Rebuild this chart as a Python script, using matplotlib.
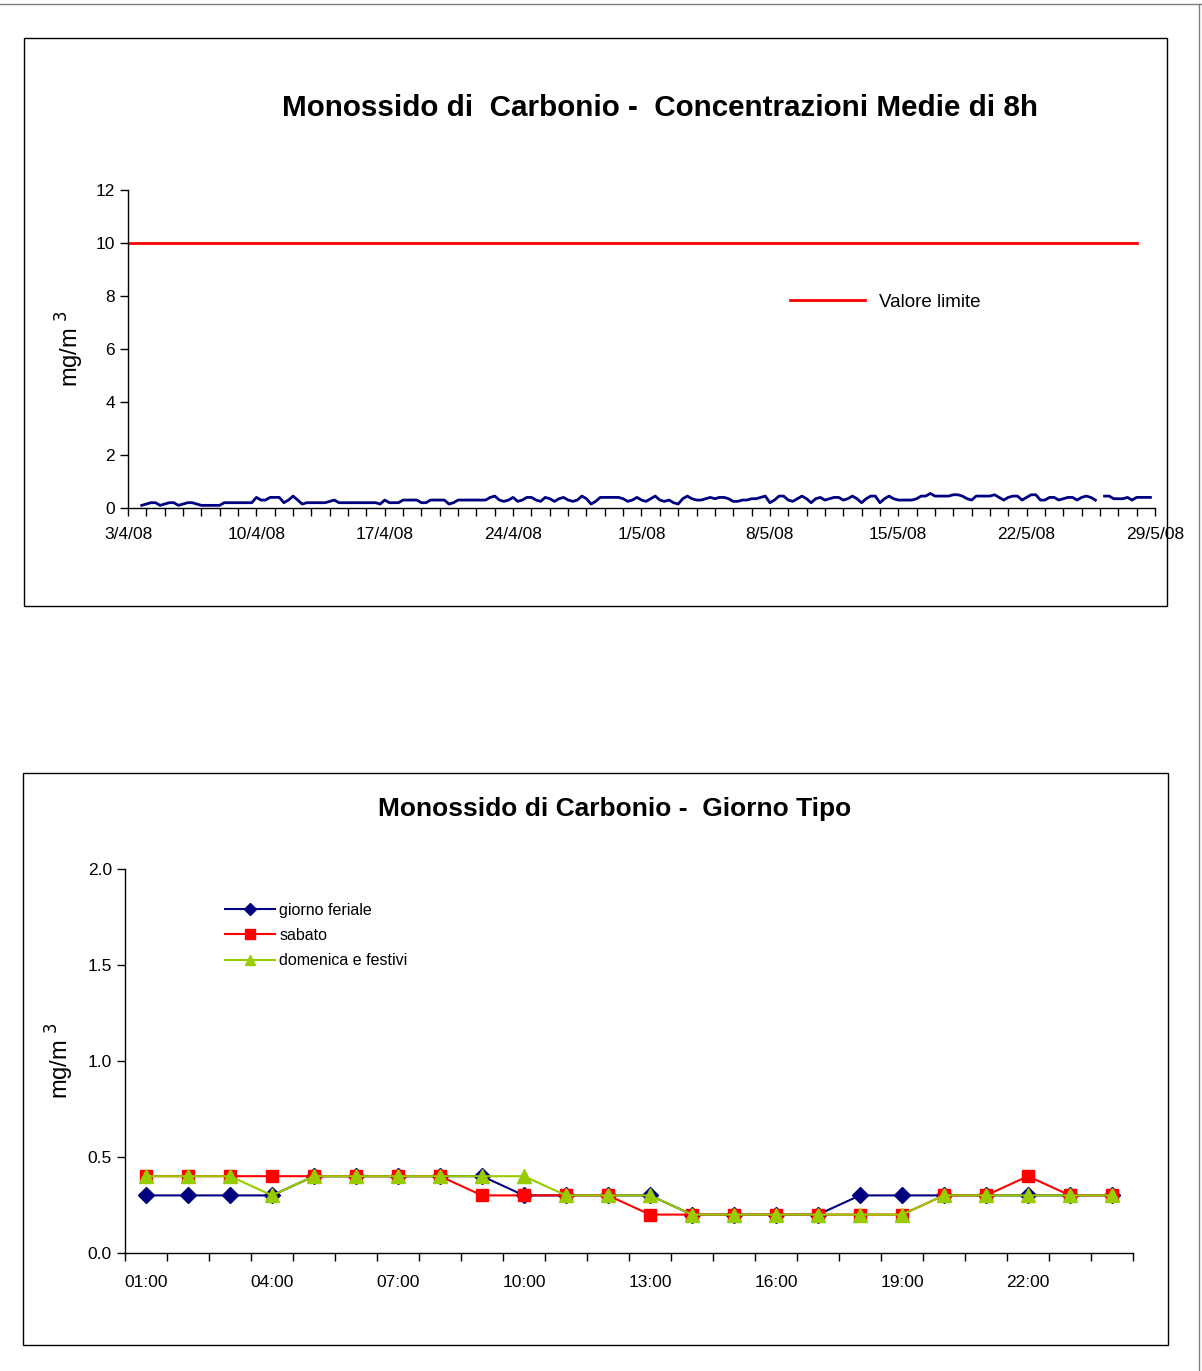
import numpy as np
import pandas as pd
import matplotlib
matplotlib.use('Agg')
import matplotlib.pyplot as plt
import matplotlib.dates as mdates
from matplotlib.lines import Line2D
from matplotlib.patches import Rectangle
from matplotlib.ticker import FuncFormatter, FixedLocator, MultipleLocator

plt.rcParams['font.family'] = ['Liberation Sans', 'DejaVu Sans']

# --- 8h rolling means, one row per day, samples at 00, 06, 12, 18h ---
start_date = '2008-04-03'
co_8h_daily = [
    [np.nan, np.nan, np.nan, 0.1],
    [0.15, 0.2, 0.2, 0.1],
    [0.15, 0.2, 0.2, 0.1],
    [0.15, 0.2, 0.2, 0.15],
    [0.1, 0.1, 0.1, 0.1],
    [0.1, 0.2, 0.2, 0.2],
    [0.2, 0.2, 0.2, 0.2],
    [0.4, 0.3, 0.3, 0.4],
    [0.4, 0.4, 0.2, 0.3],
    [0.45, 0.3, 0.15, 0.2],
    [0.2, 0.2, 0.2, 0.2],
    [0.25, 0.3, 0.2, 0.2],
    [0.2, 0.2, 0.2, 0.2],
    [0.2, 0.2, 0.2, 0.15],
    [0.3, 0.2, 0.2, 0.2],
    [0.3, 0.3, 0.3, 0.3],
    [0.2, 0.2, 0.3, 0.3],
    [0.3, 0.3, 0.15, 0.2],
    [0.3, 0.3, 0.3, 0.3],
    [0.3, 0.3, 0.3, 0.4],
    [0.45, 0.3, 0.25, 0.3],
    [0.4, 0.25, 0.3, 0.4],
    [0.4, 0.3, 0.25, 0.4],
    [0.35, 0.25, 0.35, 0.4],
    [0.3, 0.25, 0.3, 0.45],
    [0.35, 0.15, 0.25, 0.4],
    [0.4, 0.4, 0.4, 0.4],
    [0.35, 0.25, 0.3, 0.4],
    [0.3, 0.25, 0.35, 0.45],
    [0.3, 0.25, 0.3, 0.2],
    [0.15, 0.35, 0.45, 0.35],
    [0.3, 0.3, 0.35, 0.4],
    [0.35, 0.4, 0.4, 0.35],
    [0.25, 0.25, 0.3, 0.3],
    [0.35, 0.35, 0.4, 0.45],
    [0.2, 0.3, 0.45, 0.45],
    [0.3, 0.25, 0.35, 0.45],
    [0.35, 0.2, 0.35, 0.4],
    [0.3, 0.35, 0.4, 0.4],
    [0.3, 0.35, 0.45, 0.35],
    [0.2, 0.35, 0.45, 0.45],
    [0.2, 0.35, 0.45, 0.35],
    [0.3, 0.3, 0.3, 0.3],
    [0.35, 0.45, 0.45, 0.55],
    [0.45, 0.45, 0.45, 0.45],
    [0.5, 0.5, 0.45, 0.35],
    [0.3, 0.45, 0.45, 0.45],
    [0.45, 0.5, 0.4, 0.3],
    [0.4, 0.45, 0.45, 0.3],
    [0.4, 0.5, 0.5, 0.3],
    [0.3, 0.4, 0.4, 0.3],
    [0.35, 0.4, 0.4, 0.3],
    [0.4, 0.45, 0.4, 0.3],
    [np.nan, 0.45, 0.45, 0.35],
    [0.35, 0.35, 0.4, 0.3],
    [0.4, 0.4, 0.4, 0.4],
]
limit_value = 10
limit_end = '2008-05-28 01:00'
axis_end = '2008-05-29'

# --- typical day, hourly means ---
hours = ['%02d:00' % h for h in range(1, 25)]
feriale = [0.3, 0.3, 0.3, 0.3, 0.4, 0.4, 0.4, 0.4, 0.4, 0.3, 0.3, 0.3,
           0.3, 0.2, 0.2, 0.2, 0.2, 0.3, 0.3, 0.3, 0.3, 0.3, 0.3, 0.3]
sabato = [0.4, 0.4, 0.4, 0.4, 0.4, 0.4, 0.4, 0.4, 0.3, 0.3, 0.3, 0.3,
          0.2, 0.2, 0.2, 0.2, 0.2, 0.2, 0.2, 0.3, 0.3, 0.4, 0.3, 0.3]
domenica = [0.4, 0.4, 0.4, 0.3, 0.4, 0.4, 0.4, 0.4, 0.4, 0.4, 0.3, 0.3,
            0.3, 0.2, 0.2, 0.2, 0.2, 0.2, 0.2, 0.3, 0.3, 0.3, 0.3, 0.3]

W, H = 1202, 1371
fig = plt.figure(figsize=(W / 100, H / 100), dpi=100)


def fbox(x0, y0, x1, y1):
    """pixel box (top-left origin) -> figure fraction rect"""
    return [x0 / W, 1 - y1 / H, (x1 - x0) / W, (y1 - y0) / H]


# page and chart frames
fig.add_artist(Line2D([0, 1], [1 - 4 / H, 1 - 4 / H], color='#808080', lw=1))
fig.add_artist(Line2D([1 - 3 / W, 1 - 3 / W], [0, 1 - 4 / H], color='#808080', lw=1))
for x0, y0, x1, y1 in [(24, 38, 1167, 606), (23, 773, 1168, 1345)]:
    r = fbox(x0, y0, x1, y1)
    fig.add_artist(Rectangle((r[0], r[1]), r[2], r[3], transform=fig.transFigure,
                             fill=False, edgecolor='black', lw=1))


def excel_axes(ax):
    for s in ['top', 'right']:
        ax.spines[s].set_visible(False)
    for s in ['left', 'bottom']:
        ax.spines[s].set_linewidth(1)
    ax.tick_params(direction='out', length=6, width=1, labelsize=12.5, colors='black')


# ---------- 8h means ----------
ax1 = fig.add_axes(fbox(128, 190, 1155, 508))
excel_axes(ax1)
times = pd.date_range(start_date, periods=len(co_8h_daily) * 4, freq='6h')
values = np.array(co_8h_daily).ravel()
ax1.plot(times, values, color='#000080', lw=2)
t0 = pd.Timestamp(start_date)
ax1.plot([t0, pd.Timestamp(limit_end)], [limit_value, limit_value], color='#FF0000', lw=2)
ax1.set_xlim(t0, pd.Timestamp(axis_end))
ax1.set_ylim(0, 12)
ax1.yaxis.set_major_locator(MultipleLocator(2))
ax1.xaxis.set_major_locator(mdates.DayLocator())
ax1.tick_params(axis='x', pad=7.5)


def week_label(x, pos):
    d = mdates.num2date(x).replace(tzinfo=None)
    if (d - t0.to_pydatetime()).days % 7:
        return ''
    return '%d/%d/%s' % (d.day, d.month, d.strftime('%y'))


ax1.xaxis.set_major_formatter(FuncFormatter(week_label))
ax1.set_ylabel('mg/m $^{3}$', fontsize=17, labelpad=7)
fig.text(660 / W, 1 - 108 / H, 'Monossido di  Carbonio -  Concentrazioni Medie di 8h',
         ha='center', va='center', fontsize=21.3, fontweight='bold')
ax1.legend(handles=[Line2D([], [], color='#FF0000', lw=2)], labels=['Valore limite'],
           loc='upper left', bbox_to_anchor=(0.628, 0.727), frameon=False,
           fontsize=13.5, handlelength=4.0, handletextpad=0.75)

# ---------- typical day ----------
ax2 = fig.add_axes(fbox(125, 869, 1133, 1253))
excel_axes(ax2)
xc = np.arange(len(hours))
ax2.plot(xc, feriale, color='#000080', lw=1.5, marker='D', ms=8, label='giorno feriale')
ax2.plot(xc, sabato, color='#FF0000', lw=1.5, marker='s', ms=9, label='sabato')
ax2.plot(xc, domenica, color='#99CC00', lw=1.5, marker='^', ms=10, label='domenica e festivi')
ax2.set_xlim(-0.5, len(hours) - 0.5)
ax2.set_ylim(0, 2.0)
ax2.yaxis.set_major_locator(MultipleLocator(0.5))
ax2.yaxis.set_major_formatter(FuncFormatter(lambda v, p: '%.1f' % v))
ax2.xaxis.set_major_locator(FixedLocator(np.arange(-0.5, len(hours), 1)))
ax2.set_xticklabels([])
ax2.xaxis.set_minor_locator(FixedLocator(xc[::3]))
ax2.xaxis.set_minor_formatter(FuncFormatter(lambda v, p: hours[int(round(v))]))
ax2.tick_params(axis='x', which='minor', length=0, labelsize=12.5, pad=16)
ax2.set_ylabel('mg/m $^{3}$', fontsize=17, labelpad=8)
fig.text(615 / W, 1 - 809 / H, 'Monossido di Carbonio -  Giorno Tipo',
         ha='center', va='center', fontsize=19, fontweight='bold')
ax2.legend(loc='upper left', bbox_to_anchor=(0.085, 0.95), frameon=False, fontsize=11.5,
           handlelength=3.1, handletextpad=0.3, labelspacing=0.65, markerscale=0.75)

fig.savefig('out.png', dpi=100)
